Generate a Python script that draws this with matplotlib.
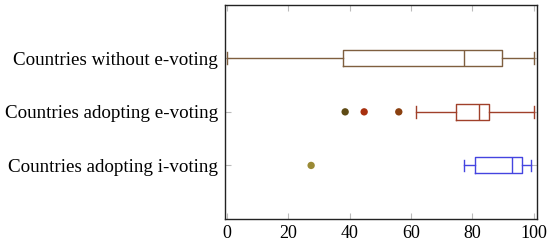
import matplotlib
matplotlib.use("Agg")
import matplotlib.pyplot as plt

categories = ["Countries without e-voting", "Countries adopting e-voting", "Countries adopting i-voting"]
whislo = [0.0, 61.6, 77.3]
q1 = [37.9, 74.8, 80.9]
med = [77.4, 82.3, 93.0]
q3 = [89.6, 85.5, 96.2]
whishi = [100.0, 100.0, 99.0]
fliers = [[], [38.5, 44.7, 56.0], [27.4]]
flier_colors = [[], ["#5E4A14", "#A8300E", "#8A4010"], ["#9A8A35"]]
colors = ["#7F5F3F", "#A0402A", "#4444E0"]
positions = [3, 2, 1]

plt.rcParams['font.family'] = ['Liberation Serif', 'DejaVu Serif']
fig = plt.figure(figsize=(5.5, 2.42), dpi=100)
ax = fig.add_axes([224.7/550, 1-219/242, (536.7-224.7)/550, (219-4.7)/242])

for i in range(3):
    stats = [dict(whislo=whislo[i], q1=q1[i], med=med[i], q3=q3[i], whishi=whishi[i], fliers=[])]
    c = colors[i]
    ax.bxp(stats, positions=[positions[i]], vert=False, widths=0.3, showfliers=False,
           boxprops=dict(color=c, lw=1.0), medianprops=dict(color=c, lw=1.0),
           whiskerprops=dict(color=c, lw=1.0), capprops=dict(color=c, lw=1.0),
           capwidths=0.22)
    if fliers[i]:
        ax.scatter(fliers[i], [positions[i]] * len(fliers[i]), s=28, c=flier_colors[i],
                   edgecolors='none', zorder=3)

ax.set_xlim(-0.8, 101)
ax.set_ylim(0, 4)
ax.set_xticks([0, 20, 40, 60, 80, 100])
ax.set_yticks(positions)
ax.set_yticklabels(categories, fontsize=13.7)
ax.tick_params(axis='x', direction='in', top=True, length=4, color='#bbbbbb', labelsize=13, pad=4)
ax.tick_params(axis='y', direction='in', right=True, length=4, color='#bbbbbb', pad=5)
for s in ax.spines.values():
    s.set_linewidth(1.0)
    s.set_color('#222222')

fig.savefig("out.png", dpi=100)
